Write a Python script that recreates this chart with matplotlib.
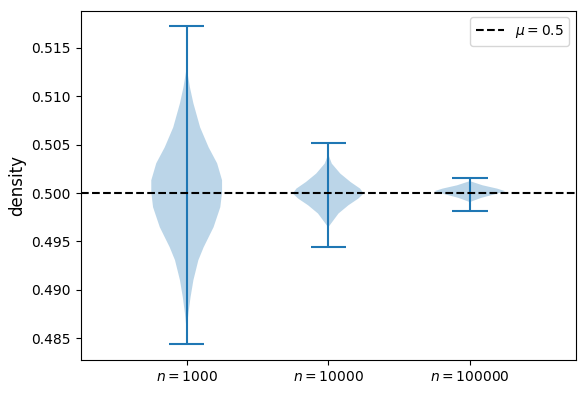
import matplotlib
matplotlib.use("Agg")
import matplotlib.pyplot as plt
import numpy as np

labels = ["$n = 1000$", "$n = 10000$", "$n = 100000$"]
mins = [0.48441, 0.49444, 0.49816]
maxs = [0.51720, 0.50517, 0.50156]

# density profiles (value, relative width)
y1 = [0.48441, 0.48617, 0.48761, 0.48926, 0.49101, 0.49307, 0.49441, 0.49648,
      0.49854, 0.50008, 0.50132, 0.50307, 0.50472, 0.50678, 0.50926, 0.51094,
      0.51270, 0.51720]
w1 = [0.0, 0.01, 0.05, 0.11, 0.19, 0.33, 0.48, 0.76,
      0.95, 1.0, 1.0, 0.86, 0.62, 0.38, 0.19, 0.09,
      0.01, 0.0]
y2 = [0.49444, 0.49651, 0.49720, 0.49789, 0.49874, 0.49943, 0.49995, 0.50046,
      0.50114, 0.50201, 0.50304, 0.50390, 0.50517]
w2 = [0.0, 0.01, 0.15, 0.29, 0.57, 0.85, 1.0, 0.9,
      0.63, 0.34, 0.1, 0.01, 0.0]
y3 = [0.49816, 0.49908, 0.49950, 0.49985, 0.50019, 0.50046, 0.50080, 0.50122,
      0.50156]
w3 = [0.0, 0.01, 0.32, 0.68, 1.0, 0.77, 0.36, 0.01, 0.0]

profiles = [(y1, w1), (y2, w2), (y3, w3)]
stats = []
for (ys, ws), lo, hi in zip(profiles, mins, maxs):
    stats.append({'coords': np.array(ys), 'vals': np.array(ws),
                  'mean': 0.5, 'median': 0.5, 'min': lo, 'max': hi})

fig, ax = plt.subplots(figsize=(5.86, 3.94))
fig.subplots_adjust(left=80.5/586, right=576/586, top=1-10.5/394, bottom=1-360/394)

ax.violin(stats, positions=[1, 2, 3], showextrema=True)
ax.axhline(0.5, color='k', ls='--', label=r'$\mu = 0.5$')
ax.set_xticks([1, 2, 3])
ax.set_xticklabels(labels)
ax.set_xlim(0.25, 3.75)
ax.set_ylabel('density', fontsize=12)
ax.legend(loc='upper right')

fig.savefig('out.png', dpi=100)
